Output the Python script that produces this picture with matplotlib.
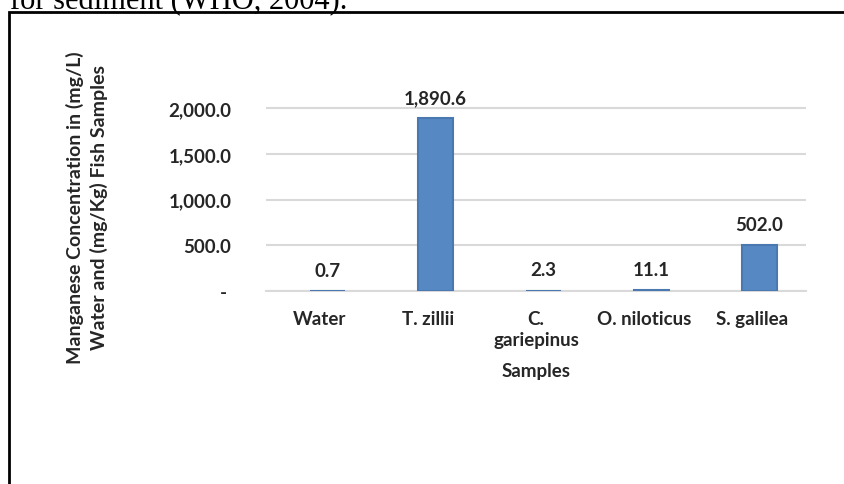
import matplotlib.pyplot as plt
from matplotlib.patches import Rectangle
from matplotlib.ticker import FuncFormatter
import numpy as np

# data
samples = ['Water', 'T. zillii', 'C.\ngariepinus', 'O. niloticus', 'S. galilea']
manganese = [0.7, 1890.6, 2.3, 11.1, 502.0]
value_labels = ['0.7', '1,890.6', '2.3', '11.1', '502.0']
y_ticks = [0, 500, 1000, 1500, 2000]

plt.rcParams['font.family'] = ['Lato', 'DejaVu Sans']

W, H = 845, 485
FS = 13.5
TXT = '#262626'

fig = plt.figure(figsize=(W / 100, H / 100), dpi=100)

# page text cut off above the figure box
fig.text(10 / W, 1 - 9 / H, 'for sediment (WHO, 2004).', family='Liberation Serif',
         fontsize=22, va='baseline', ha='left', color='black')

# figure frame from the document
fig.patches.append(Rectangle((9 / W, -0.1), 900 / W, 1.1 - 13 / H,
                             transform=fig.transFigure, fill=False,
                             edgecolor='black', linewidth=2))

ax = fig.add_axes([266 / W, 1 - 292 / H, 540 / W, (292 - 91) / H])

x = np.arange(len(samples))
bar_x = x + 0.07
ax.bar(bar_x, manganese, width=0.33, color='#5689C4',
       edgecolor='#4A78B0', linewidth=1.5, zorder=3)

for xi, val, txt in zip(bar_x, manganese, value_labels):
    ax.annotate(txt, (xi, val), xytext=(0, 15), textcoords='offset points',
                ha='center', va='center', fontsize=FS, fontweight='bold',
                color=TXT)

ax.set_xlim(-0.5, len(samples) - 0.5)
ax.set_ylim(0, 2200)
ax.set_yticks(y_ticks)
ax.yaxis.set_major_formatter(
    FuncFormatter(lambda v, p: '- ' if v == 0 else f'{v:,.1f}'))
ax.set_xticks(x)
ax.set_xticklabels(samples, linespacing=1.25)

ax.tick_params(axis='both', length=0, labelsize=FS, colors=TXT)
ax.tick_params(axis='y', pad=25)
ax.tick_params(axis='x', pad=14)
for lbl in ax.get_xticklabels() + ax.get_yticklabels():
    lbl.set_fontweight('bold')

ax.grid(axis='y', color='#D9D9D9', linewidth=1.5, zorder=0)
for side in ['top', 'right', 'left']:
    ax.spines[side].set_visible(False)
ax.spines['bottom'].set_color('#D9D9D9')
ax.spines['bottom'].set_linewidth(1.5)

ax.set_xlabel('Samples', fontsize=FS, fontweight='bold', color=TXT,
              labelpad=10)
ax.set_ylabel('Manganese Concentration in (mg/L)\nWater and (mg/Kg) Fish Samples',
              fontsize=14, fontweight='bold', color=TXT, linespacing=1.4)
ax.yaxis.set_label_coords(-0.292, 0.42)

fig.savefig('out.png', dpi=100)
